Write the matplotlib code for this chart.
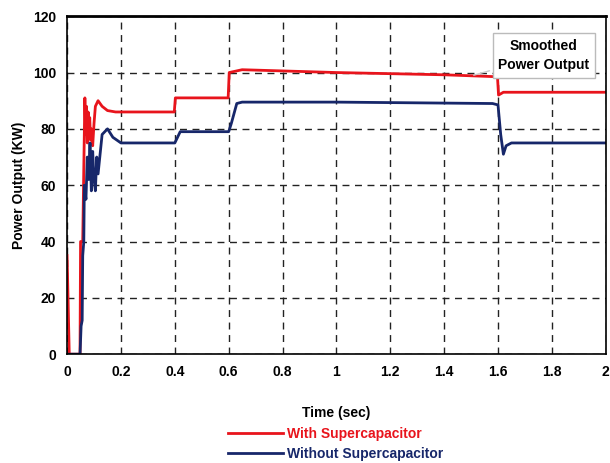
import matplotlib
matplotlib.use("Agg")
import matplotlib.pyplot as plt

plt.rcParams['font.family'] = ['Liberation Sans', 'DejaVu Sans']
plt.rcParams['font.weight'] = 'bold'
plt.rcParams['axes.labelweight'] = 'bold'

# with supercapacitor (red)
t_with = [0, 0.008, 0.048, 0.05, 0.058, 0.062, 0.066, 0.069, 0.072, 0.075, 0.078,
          0.081, 0.084, 0.087, 0.09, 0.095, 0.1, 0.105, 0.115, 0.13, 0.15, 0.18,
          0.2, 0.398, 0.402, 0.598, 0.602, 0.65, 1.0, 1.4, 1.598, 1.602, 1.62, 2.0]
p_with = [35, 0, 0, 40, 40, 66, 91, 78, 88, 75, 86,
          79, 84, 76, 80, 74, 82, 88, 90, 88, 86.5, 86,
          86, 86, 91, 91, 100, 101, 100, 99.2, 98.5, 92, 93, 93]

# without supercapacitor (blue)
t_without = [0, 0.048, 0.052, 0.056, 0.058, 0.062, 0.064, 0.07, 0.075, 0.08, 0.085,
             0.09, 0.095, 0.1, 0.105, 0.11, 0.115, 0.13, 0.15, 0.17, 0.2, 0.4,
             0.42, 0.6, 0.61, 0.63, 0.65, 1.0, 1.58, 1.6, 1.61, 1.62, 1.63, 1.65, 2.0]
p_without = [0, 0, 10, 12, 35, 40, 60, 55, 70, 62, 75,
             58, 72, 62, 58, 70, 64, 78, 80, 77, 75, 75,
             79, 79, 82, 89, 89.5, 89.5, 89, 88.5, 78, 71, 74, 75, 75]

x_ticks = [0, 0.2, 0.4, 0.6, 0.8, 1, 1.2, 1.4, 1.6, 1.8, 2]
x_labels = ['0', '0.2', '0.4', '0.6', '0.8', '1', '1.2', '1.4', '1.6', '1.8', '2']
y_ticks = [0, 20, 40, 60, 80, 100, 120]

red = '#e8141c'
blue = '#17276a'

fig = plt.figure(figsize=(6.1, 4.63), dpi=100)
ax = fig.add_axes([0.110, 0.235, 0.883, 0.730])

line_w, = ax.plot(t_with, p_with, color=red, lw=2, label='With Supercapacitor')
line_wo, = ax.plot(t_without, p_without, color=blue, lw=2, label='Without Supercapacitor')

ax.set_xlim(0, 2)
ax.set_ylim(0, 120)
ax.set_xticks(x_ticks)
ax.set_xticklabels(x_labels)
ax.set_yticks(y_ticks)
ax.tick_params(labelsize=10, length=0, pad=8)
ax.grid(True, color='#222222', linestyle=(0, (5, 4)), lw=1)
for s in ax.spines.values():
    s.set_linewidth(1.2)
ax.spines['top'].set_linewidth(2)

ax.set_xlabel('Time (sec)', fontsize=10, labelpad=19)
ax.set_ylabel('Power Output (KW)', fontsize=10, labelpad=5)

ax.annotate('Smoothed\nPower Output', xy=(1.5, 98.8), xytext=(1.77, 106),
            ha='center', va='center', fontsize=10, linespacing=1.5,
            bbox=dict(boxstyle='square,pad=0.4', fc='white', ec='#bbbbbb', lw=1),
            arrowprops=dict(arrowstyle='-', color='#cccccc', lw=1))

fig.legend(handles=[line_w, line_wo], loc='upper center', bbox_to_anchor=(0.55, 0.098),
           frameon=False, fontsize=10, handlelength=4, handletextpad=0.3,
           labelspacing=0.4, borderpad=0.2, labelcolor=[red, blue])

fig.savefig('out.png', dpi=100)
